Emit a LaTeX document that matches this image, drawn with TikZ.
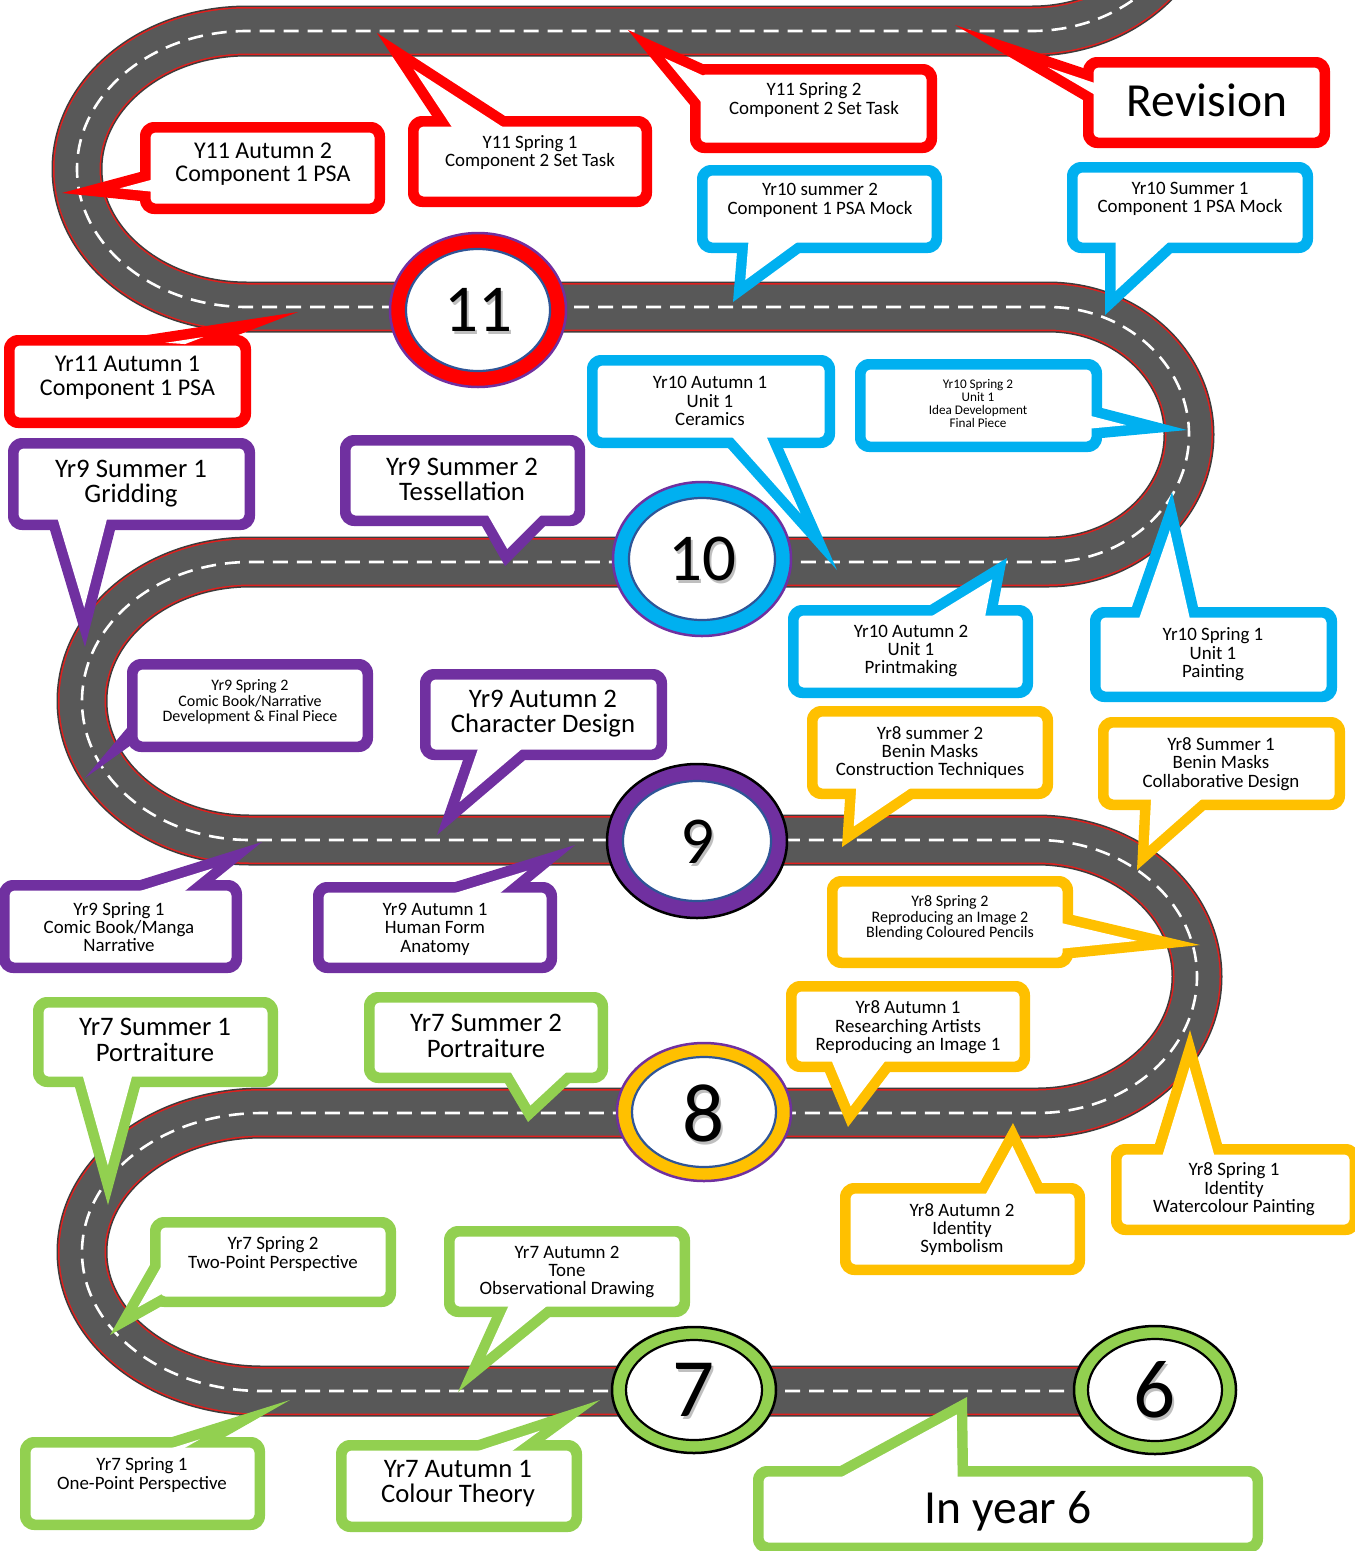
\documentclass[tikz,border=0pt]{standalone}
\usepackage{fontspec}
\setmainfont{Carlito}
\usetikzlibrary{calc}
\definecolor{cred}{HTML}{FF0000}
\definecolor{cblue}{HTML}{00B0F0}
\definecolor{cpurple}{HTML}{7030A0}
\definecolor{cgold}{HTML}{FFC000}
\definecolor{cgreen}{HTML}{92D050}
\definecolor{roadgrey}{HTML}{585858}
\definecolor{roadedge}{HTML}{3C3C3C}
\definecolor{roadred}{HTML}{E0201E}
\definecolor{ringblue}{HTML}{2F5597}

% #1 colour, #2 x1, #3 y1, #4 x2, #5 y2 (outer box), #6 tip, #7 #8 base points
\newcommand\mycallout[8]{%
  \fill[#1,rounded corners=14pt] (#2,#3) rectangle (#4,#5);
  \coordinate (cT) at (#6);
  \coordinate (cA) at ($(#7)!-30pt!(#6)$);
  \coordinate (cB) at ($(#8)!-30pt!(#6)$);
  \fill[#1] (cT) -- (cA) -- (cB) -- cycle;
  \fill[white,rounded corners=5pt] ($(#2,#3)+(10.5,10.5)$) rectangle ($(#4,#5)+(-10.5,-10.5)$);
  \begin{scope}
  \clip (cT) -- (cA) -- (cB) -- cycle;
  \fill[white] let \p1=(cT),\p2=(cA),\p3=(cB),
     \n1={veclen(\x2-\x1,\y2-\y1)},\n2={veclen(\x3-\x1,\y3-\y1)},
     \n3={(\x2-\x1)/\n1+(\x3-\x1)/\n2},\n4={(\y2-\y1)/\n1+(\y3-\y1)/\n2},
     \n5={(\x2-\x1)/\n1-(\x3-\x1)/\n2},\n6={(\y2-\y1)/\n1-(\y3-\y1)/\n2},
     \n7={21/veclen(\n5,\n6)/veclen(\n3,\n4)}
   in (\x1+\n7*\n3,\y1+\n7*\n4) -- (\x2+\n7*\n3,\y2+\n7*\n4) -- (\x3+\n7*\n3,\y3+\n7*\n4) -- cycle;
  \end{scope}
}
% #1 x, #2 y, #3 rx, #4 ry, #5 irx, #6 iry, #7 ring, #8 outer line, #9 inner line
\newcommand\myring[9]{%
  \draw[draw=#8, line width=2.5pt, fill=#7] (#1,#2) ellipse [x radius=#3, y radius=#4];
  \draw[draw=#9, line width=2.2pt, fill=white] (#1,#2) ellipse [x radius=#5, y radius=#6];
}
\tikzset{
 ts/.style={font=\fontsize{18.9}{18.4}\selectfont, align=center, inner sep=0pt},
 tl/.style={font=\fontsize{24}{23.5}\selectfont, align=center, inner sep=0pt},
 tL/.style={font=\fontsize{26.7}{25.5}\selectfont, align=center, inner sep=0pt},
 tm/.style={font=\fontsize{16}{15.6}\selectfont, align=center, inner sep=0pt},
 tt/.style={font=\fontsize{13.2}{12.7}\selectfont, align=center, inner sep=0pt},
 th/.style={font=\fontsize{47.5}{50}\selectfont, inner sep=0pt},
 num/.style={font=\fontsize{67}{70}\selectfont, inner sep=0pt},
 numb/.style={font=\fontsize{83}{86}\selectfont, inner sep=0pt},
 shad/.style={text=black, opacity=0.25},
}
\begin{document}
\begin{tikzpicture}[x=1pt,y=-1pt]
\useasboundingbox (0,0) rectangle (1355,1551);
\clip (0,0) rectangle (1355,1551);
\fill[white] (0,0) rectangle (1355,1551);

% road
\path[draw=roadedge, line width=51pt, line join=round,
 postaction={draw=roadred, line width=48pt},
 postaction={draw=roadgrey, line width=45pt},
 postaction={draw=white, line width=2.6pt, dash pattern=on 15pt off 9pt}]
 (1160,1391) -- (262,1391)
 .. controls (162.6,1391) and (82,1328.8) .. (82,1252)
 .. controls (82,1175.2) and (162.6,1113) .. (262,1113)
 -- (1037,1113)
 .. controls (1125.4,1113) and (1197,1051.9) .. (1197,976.5)
 .. controls (1197,901.1) and (1125.4,840) .. (1037,840)
 -- (250,840)
 .. controls (157.2,840) and (82,777.8) .. (82,701)
 .. controls (82,624.2) and (157.2,562) .. (250,562)
 -- (1048,562)
 .. controls (1125.9,562) and (1189,504.9) .. (1189,434.5)
 .. controls (1189,364.1) and (1125.9,307) .. (1048,307)
 -- (247,307)
 .. controls (153.1,307) and (77,245.2) .. (77,169)
 .. controls (77,92.8) and (153.1,31) .. (247,31)
 -- (1032,31)
 .. controls (1120.4,31) and (1192,-30.8) .. (1192,-107);

% year rings
\myring{478}{310}{88}{77}{72}{61}{cred}{cpurple}{ringblue}
\myring{702}{559}{89}{77}{73}{61}{cblue}{cpurple}{ringblue}
\myring{697}{841}{90}{77}{74}{60}{cpurple}{black}{ringblue}
\myring{704}{1112}{87}{69}{72}{55}{cgold}{cpurple}{ringblue}
\myring{694}{1390}{82}{63}{68}{50}{cgreen}{black}{black}
\myring{1155}{1390}{81}{64}{67}{51}{cgreen}{black}{black}
\node[num,shad] (s11) at (480,313) {11};
\node[num] (n11) at (478,310) {11};
\node[num,shad] (s10) at (704,562) {10};
\node[num] (n10) at (702,559) {10};
\node[num,shad] (s9) at (699,845) {9};
\node[num] (n9) at (697,842) {9};
\node[numb,shad] (s8) at (706,1116) {8};
\node[numb] (n8) at (704,1113) {8};
\node[numb,shad] (s7) at (696,1393) {7};
\node[numb] (n7) at (694,1390) {7};
\node[numb,shad] (s6) at (1157,1393) {6};
\node[numb] (n6) at (1155,1390) {6};

% Year 11 (red)
\mycallout{cred}{1083}{57}{1330}{148}{955,25}{1083,68}{1083,100}
\node[th] (rev) at (1207,100) {Revision};
\mycallout{cred}{690}{64}{937}{153}{628,30}{703,64}{690,105}
\node[ts] (y11sp2) at (814,100) {Y11 Spring 2\\Component 2 Set Task};
\mycallout{cred}{408}{116}{652}{207}{377,33}{432,116}{505,116}
\node[ts] (y11sp1) at (530,152.5) {Y11 Spring 1\\Component 2 Set Task};
\mycallout{cred}{140}{122}{385}{214}{62,193}{140,172}{140,201}
\node[tl] (y11a2) at (263,164) {Y11 Autumn 2\\Component 1 PSA};
\mycallout{cred}{4}{335}{251}{428}{298,312}{147,335}{238,335}
\node[tl] (y11a1) at (127.5,377.5) {Yr11 Autumn 1\\Component 1 PSA};

% Year 10 (blue)
\mycallout{cblue}{697}{165}{942}{253}{733,302}{737,253}{800,253}
\node[ts] (y10su2) at (820,200.5) {Yr10 summer 2\\Component 1 PSA Mock};
\mycallout{cblue}{1067}{162}{1313}{253}{1105,315}{1105,253}{1172,253}
\node[ts] (y10su1) at (1190,199) {Yr10 Summer 1\\Component 1 PSA Mock};
\mycallout{cblue}{587}{355}{835}{448}{837,570}{728,448}{783,448}
\node[ts] (y10a1) at (710,401) {Yr10 Autumn 1\\Unit 1\\Ceramics};
\mycallout{cblue}{855}{359}{1102}{452}{1187,430}{1102,408}{1102,438}
\node[tt] (y10sp2) at (978,403.5) {Yr10 Spring 2\\Unit 1\\Idea Development\\Final Piece};
\mycallout{cblue}{788}{605}{1033}{698}{1007,558}{930,605}{998,605}
\node[ts] (y10a2) at (911,651) {Yr10 Autumn 2\\Unit 1\\Printmaking};
\mycallout{cblue}{1090}{607}{1337}{702}{1172,492}{1132,607}{1198,607}
\node[ts] (y10sp1) at (1213,654.5) {Yr10 Spring 1\\Unit 1\\Painting};

% Year 9 (purple)
\mycallout{cpurple}{8}{438}{255}{530}{85,647}{50,530}{115,530}
\node[tL] (y9su1) at (131,483.5) {Yr9 Summer 1\\Gridding};
\mycallout{cpurple}{340}{435}{585}{526}{505,566}{482,526}{545,526}
\node[tL] (y9su2) at (462,479.5) {Yr9 Summer 2\\Tessellation};
\mycallout{cpurple}{127}{659}{373}{752}{85,778}{127,728}{127,748}
\node[tm] (y9sp2) at (250,702) {Yr9 Spring 2\\Comic Book/Narrative\\Development \& Final Piece};
\mycallout{cpurple}{420}{669}{667}{760}{437,835}{463,760}{525,760}
\node[tL] (y9a2) at (543,713.5) {Yr9 Autumn 2\\Character Design};
\mycallout{cpurple}{-1}{880}{242}{973}{262,842}{140,880}{215,880}
\node[ts] (y9sp1) at (119,927) {Yr9 Spring 1\\Comic Book/Manga\\Narrative};
\mycallout{cpurple}{313}{882}{557}{973}{575,845}{455,882}{530,882}
\node[ts] (y9a1) at (435,929) {Yr9 Autumn 1\\Human Form\\Anatomy};

% Year 8 (gold)
\mycallout{cgold}{807}{706}{1053}{799}{842,847}{845,799}{913,799}
\node[ts] (y8su2) at (930,752.5) {Yr8 summer 2\\Benin Masks\\Construction Techniques};
\mycallout{cgold}{1098}{717}{1345}{810}{1137,870}{1140,810}{1205,810}
\node[ts] (y8su1) at (1221,764) {Yr8 Summer 1\\Benin Masks\\Collaborative Design};
\mycallout{cgold}{827}{876}{1073}{968}{1200,945}{1073,915}{1073,958}
\node[tm] (y8sp2) at (950,918) {Yr8 Spring 2\\Reproducing an Image 2\\Blending Coloured Pencils};
\mycallout{cgold}{786}{981}{1030}{1072}{848,1127}{825,1072}{890,1072}
\node[ts] (y8a1) at (908,1027.5) {Yr8 Autumn 1\\Researching Artists\\Reproducing an Image 1};
\mycallout{cgold}{840}{1183}{1085}{1275}{1013,1123}{980,1183}{1042,1183}
\node[ts] (y8a2) at (962,1229.5) {Yr8 Autumn 2\\Identity\\Symbolism};
\mycallout{cgold}{1111}{1144}{1360}{1235}{1190,1030}{1155,1144}{1222,1144}
\node[ts] (y8sp1) at (1234,1189.5) {Yr8 Spring 1\\Identity\\Watercolour Painting};

% Year 7 (green)
\mycallout{cgreen}{33}{997}{278}{1087}{108,1205}{75,1087}{140,1087}
\node[tL] (y7su1) at (155,1040) {Yr7 Summer 1\\Portraiture};
\mycallout{cgreen}{364}{992}{608}{1083}{528,1122}{505,1083}{570,1083}
\node[tL] (y7su2) at (486,1036) {Yr7 Summer 2\\Portraiture};
\mycallout{cgreen}{150}{1217}{396}{1307}{110,1335}{150,1265}{160,1307}
\node[ts] (y7sp2) at (273,1254) {Yr7 Spring 2\\Two-Point Perspective};
\mycallout{cgreen}{444}{1226}{690}{1317}{458,1392}{492,1317}{550,1317}
\node[ts] (y7a2) at (567,1272) {Yr7 Autumn 2\\Tone\\Observational Drawing};
\mycallout{cgreen}{20}{1437}{265}{1530}{290,1400}{172,1437}{225,1437}
\node[ts] (y7sp1) at (142,1475) {Yr7 Spring 1\\One-Point Perspective};
\mycallout{cgreen}{336}{1440}{582}{1532}{600,1400}{478,1440}{545,1440}
\node[tL] (y7a1) at (458,1483.5) {Yr7 Autumn 1\\Colour Theory};
\mycallout{cgreen}{753}{1466}{1263}{1553}{967,1397}{840,1466}{968,1466}
\node[th] (y6) at (1008,1511) {In year 6};
\end{tikzpicture}
\end{document}
